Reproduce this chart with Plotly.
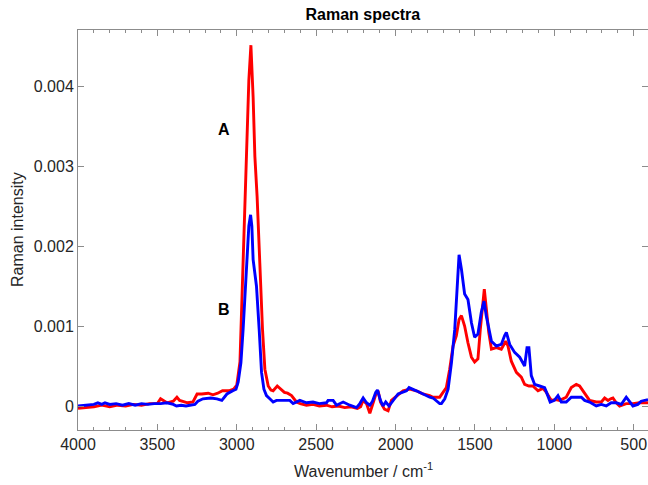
import plotly.graph_objects as go

# ---- data ----
wavenumber_A = [4000, 3950, 3900, 3850, 3800, 3750, 3700, 3650, 3600, 3550, 3500, 3480, 3460, 3440,
                3400, 3377, 3360, 3345, 3310, 3276, 3250, 3220, 3180, 3150, 3120, 3090, 3050, 3020,
                3000, 2980, 2960, 2938, 2924, 2911, 2897, 2886, 2872, 2855, 2838, 2823, 2802, 2785,
                2771, 2745, 2725, 2700, 2680, 2655, 2624, 2600, 2561, 2520, 2480, 2435, 2400, 2360,
                2320, 2280, 2240, 2220, 2205, 2183, 2162, 2141, 2120, 2110, 2095, 2070, 2047, 2026,
                1994, 1953, 1911, 1869, 1848, 1827, 1785, 1764, 1722, 1701, 1680, 1659, 1638, 1617,
                1600, 1585, 1565, 1544, 1522, 1502, 1481, 1466, 1449, 1441, 1428, 1413, 1396, 1365,
                1334, 1306, 1292, 1271, 1239, 1208, 1187, 1160, 1135, 1103, 1072, 1050, 1019, 990,
                967, 925, 893, 862, 841, 809, 778, 736, 704, 683, 662, 645, 631, 610, 589, 547, 505,
                463, 410]
intensity_A = [-0.00003, -0.00002, -0.00001, 0.00001, -0.00001, 0.00001, 0.0, 0.00002, 0.00001, 0.00003,
               0.00003, 0.00009, 0.00006, 0.00004, 0.00006, 0.00011, 0.00007, 0.00006, 0.00004, 0.00005,
               0.00015, 0.00015, 0.00016, 0.00014, 0.00016, 0.00019, 0.00019, 0.00021, 0.00026, 0.00055,
               0.00179, 0.00324, 0.00407, 0.00451, 0.00386, 0.00312, 0.00262, 0.00179, 0.00096, 0.00046,
               0.00025, 0.00020, 0.00019, 0.00025, 0.00021, 0.00017, 0.00016, 0.00013, 0.00005, 0.00003,
               0.00001, 0.00002, 0.0, 0.00001, -0.00001, 0.0, -0.00002, -0.00001, -0.00003, -0.00001,
               0.00007, 0.00003, -0.00009, 0.00004, 0.00017, 0.00019, 0.00005, -0.00004, -0.00006,
               0.00007, 0.00012, 0.00019, 0.00021, 0.00019, 0.00017, 0.00015, 0.00013, 0.00011, 0.00011,
               0.00017, 0.00023, 0.00046, 0.00075, 0.00088, 0.00108, 0.00113, 0.00100, 0.00079, 0.00061,
               0.00055, 0.00059, 0.00096, 0.00137, 0.00146, 0.00121, 0.00092, 0.00071, 0.00073, 0.00071,
               0.00081, 0.00075, 0.00056, 0.00042, 0.00036, 0.00027, 0.00025, 0.00025, 0.00019, 0.00022,
               0.00017, 0.00007, 0.00008, 0.00007, 0.00011, 0.00023, 0.00027, 0.00025, 0.00015, 0.00007,
               0.00005, 0.00005, 0.00010, 0.00007, 0.00009, 0.00010, 0.00004, 0.0, 0.00003, 0.00003,
               0.00004, 0.00004]

wavenumber_B = [4000, 3950, 3900, 3875, 3850, 3830, 3800, 3760, 3720, 3680, 3640, 3600, 3560, 3520,
                3480, 3440, 3400, 3380, 3350, 3320, 3290, 3264, 3245, 3213, 3163, 3125, 3094, 3062,
                3025, 3005, 2991, 2974, 2960, 2938, 2924, 2913, 2905, 2897, 2886, 2876, 2859, 2844,
                2829, 2813, 2792, 2771, 2750, 2729, 2700, 2666, 2645, 2603, 2561, 2520, 2480, 2435,
                2425, 2393, 2372, 2330, 2288, 2246, 2225, 2204, 2183, 2162, 2145, 2125, 2114, 2095,
                2079, 2062, 2041, 2016, 1984, 1931, 1915, 1869, 1848, 1827, 1806, 1785, 1764, 1743,
                1722, 1711, 1690, 1669, 1648, 1627, 1613, 1600, 1585, 1565, 1544, 1522, 1502, 1481,
                1460, 1443, 1428, 1413, 1396, 1365, 1334, 1313, 1302, 1281, 1250, 1218, 1187, 1172,
                1160, 1145, 1124, 1093, 1061, 1049, 1026, 1000, 977, 956, 925, 893, 862, 830, 809,
                778, 736, 704, 673, 642, 610, 578, 547, 526, 505, 474, 453, 410]
intensity_B = [0.0, 0.00001, 0.00002, 0.00004, 0.00002, 0.00004, 0.00002, 0.00003, 0.00001, 0.00003,
               0.00001, 0.00003, 0.00002, 0.00003, 0.00003, 0.00004, 0.00002, 0.0, 0.00001, 0.0,
               0.00001, 0.00002, 0.00006, 0.00009, 0.00010, 0.00009, 0.00007, 0.00015, 0.00019,
               0.00021, 0.00030, 0.00054, 0.00096, 0.00179, 0.00225, 0.00239, 0.00225, 0.00183,
               0.00165, 0.00150, 0.00096, 0.00042, 0.00021, 0.00013, 0.00009, 0.00005, 0.00007,
               0.00007, 0.00007, 0.00007, 0.00003, 0.00007, 0.00004, 0.00005, 0.00003, 0.00004,
               0.00007, 0.00007, 0.00001, 0.00005, 0.00001, -0.00002, 0.00003, 0.00010, 0.00004,
               0.00001, 0.00006, 0.00017, 0.00020, 0.00007, 0.0, 0.00005, 0.0, 0.00007, 0.00015,
               0.00019, 0.00023, 0.00019, 0.00017, 0.00014, 0.00013, 0.00011, 0.00010, 0.00007,
               0.00003, 0.00003, 0.00009, 0.00021, 0.00054, 0.00096, 0.00146, 0.00189, 0.00171,
               0.00140, 0.00133, 0.00104, 0.00086, 0.00090, 0.00117, 0.00131, 0.00112, 0.00096,
               0.00081, 0.00075, 0.00077, 0.00088, 0.00092, 0.00077, 0.00067, 0.00061, 0.00050,
               0.00073, 0.00073, 0.00038, 0.00027, 0.00025, 0.00023, 0.00017, 0.00005, 0.00007,
               0.00013, 0.00005, 0.00005, 0.00011, 0.00011, 0.00011, 0.00007, 0.00005, 0.0, 0.00002,
               0.0, 0.00004, 0.00004, 0.00002, 0.00011, 0.00006, 0.0, 0.00002, 0.00006, 0.00008]

x_tick_values = [4000, 3500, 3000, 2500, 2000, 1500, 1000, 500]
x_tick_labels = ["4000", "3500", "3000", "2500", "2000", "1500", "1000", "500"]
y_tick_values = [0, 0.001, 0.002, 0.003, 0.004]
y_tick_labels = ["0", "0.001", "0.002", "0.003", "0.004"]

label_names = ["A", "B"]
label_x = [3079, 3079]
label_y = [0.00346, 0.00121]

FONT = "Liberation Sans, Arial, Helvetica, sans-serif"
AXIS_GRAY = "#8c8c8c"
TEXT = "#262626"

fig = go.Figure()
fig.add_trace(go.Scatter(x=wavenumber_A, y=intensity_A, mode="lines",
                         line=dict(color="#ff0000", width=2.9), name="A"))
fig.add_trace(go.Scatter(x=wavenumber_B, y=intensity_B, mode="lines",
                         line=dict(color="#0000ff", width=2.9), name="B"))

for name, lx, ly in zip(label_names, label_x, label_y):
    fig.add_annotation(x=lx, y=ly, text="<b>%s</b>" % name, showarrow=False,
                       font=dict(family=FONT, size=16, color="#000000"))

# axis titles placed as paper-anchored text
fig.add_annotation(x=0.5, y=-0.1, xref="paper", yref="paper", xanchor="center", yanchor="middle",
                   text="Wavenumber / cm<sup>-1</sup>", showarrow=False,
                   font=dict(family=FONT, size=16, color=TEXT))
fig.add_annotation(x=-0.107, y=0.5, xref="paper", yref="paper", xanchor="center", yanchor="middle",
                   text="Raman intensity", textangle=-90, showarrow=False,
                   font=dict(family=FONT, size=16, color=TEXT))

fig.update_layout(
    width=648, height=485,
    margin=dict(l=78, r=0, t=30, b=55, autoexpand=False),
    paper_bgcolor="white", plot_bgcolor="white",
    showlegend=False,
    font=dict(family=FONT, color=TEXT),
    title=dict(text="<b>Raman spectra</b>", x=0.56, xref="container", xanchor="center",
               y=1 - 14 / 485, yref="container", yanchor="middle",
               font=dict(family=FONT, size=16, color="#000000")),
)
fig.update_xaxes(
    range=[4000, 410], tickvals=x_tick_values, ticktext=x_tick_labels, automargin=False,
    showgrid=False, zeroline=False, showline=True, linecolor=AXIS_GRAY, linewidth=1,
    mirror="ticks", ticks="inside", ticklen=6, tickcolor=AXIS_GRAY, tickwidth=1,
    minor=dict(dtick=100, ticks="inside", ticklen=3, tickcolor=AXIS_GRAY, showgrid=False),
    tickfont=dict(family=FONT, size=16, color=TEXT),
)
fig.update_yaxes(
    range=[-0.0003, 0.0047], tickvals=y_tick_values, ticktext=y_tick_labels, automargin=False,
    showgrid=False, zeroline=False, showline=True, linecolor=AXIS_GRAY, linewidth=1,
    mirror="ticks", ticks="inside", ticklen=6, tickcolor=AXIS_GRAY, tickwidth=1,
    tickfont=dict(family=FONT, size=16, color=TEXT),
)

fig.write_html("out.html", config={"displayModeBar": False},
               post_script="document.body.style.margin='0px';document.body.style.padding='0px';")
